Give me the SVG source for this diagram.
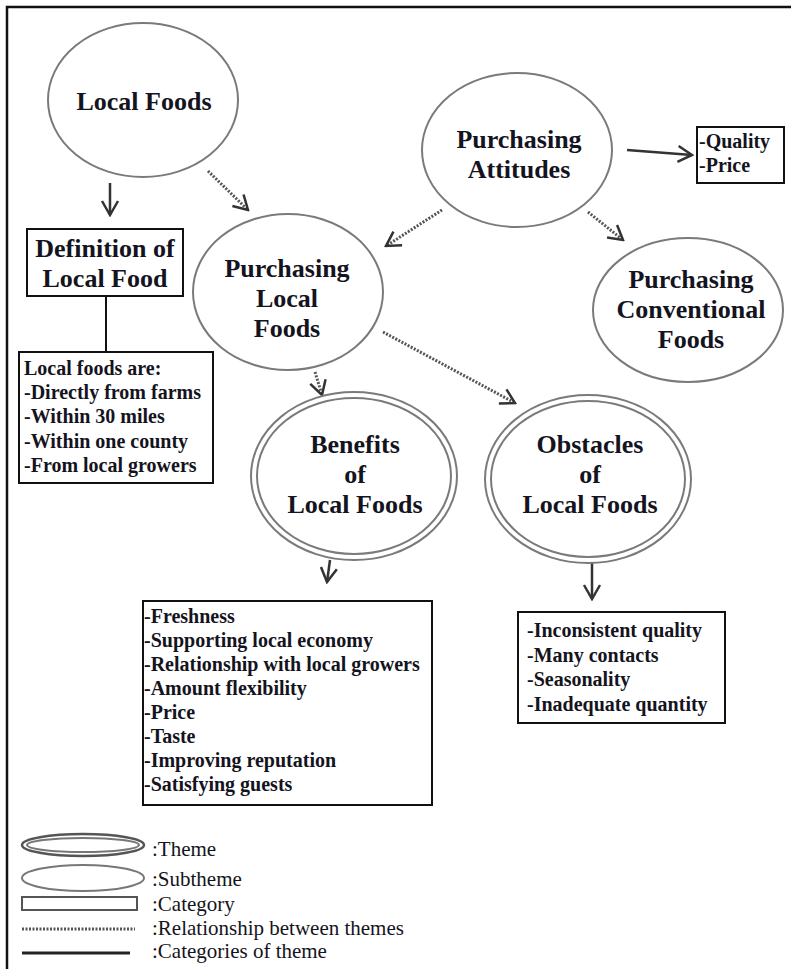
<svg xmlns="http://www.w3.org/2000/svg" width="791" height="969" viewBox="0 0 791 969">
<style>
.el{fill:none;stroke:#7a7a7a;stroke-width:2}
.box{fill:#fff;stroke:#111;stroke-width:2}
.h{font-family:"Liberation Serif",serif;font-weight:bold;font-size:26px;fill:#141420;text-anchor:middle}
.t{font-family:"Liberation Serif",serif;font-weight:bold;font-size:20px;fill:#141420}
.lg{font-family:"Liberation Serif",serif;font-size:21px;fill:#141420}
.dot{fill:none;stroke:#555;stroke-width:3;stroke-dasharray:2 1.5}
.sol{fill:none;stroke:#333;stroke-width:2.5}
</style>
<defs>
<marker id="ah" viewBox="0 0 18 20" refX="16" refY="10" markerWidth="18" markerHeight="20" markerUnits="userSpaceOnUse" orient="auto"><path d="M2,2 L16,10 L2,18" fill="none" stroke="#333" stroke-width="2.5"/></marker>
</defs>
<rect width="791" height="969" fill="#fff"/>
<path d="M7,969 V7 H791" fill="none" stroke="#111" stroke-width="2.5"/>

<g id="connectors">
<line class="dot" x1="208" y1="171" x2="248" y2="210" marker-end="url(#ah)"/>
<line class="dot" x1="442" y1="210" x2="386" y2="246" marker-end="url(#ah)"/>
<line class="dot" x1="588" y1="212" x2="623" y2="240" marker-end="url(#ah)"/>
<line class="dot" x1="383" y1="332" x2="515" y2="403" marker-end="url(#ah)"/>
<line class="dot" x1="315" y1="372" x2="322" y2="395" marker-end="url(#ah)"/>
<line class="sol" x1="110" y1="183" x2="110" y2="215" marker-end="url(#ah)"/>
<line class="sol" x1="627" y1="150" x2="692" y2="155" stroke-width="3" marker-end="url(#ah)"/>
<line class="sol" x1="330" y1="560" x2="327" y2="582" marker-end="url(#ah)"/>
<line class="sol" x1="592" y1="563" x2="592" y2="599" marker-end="url(#ah)"/>
<line x1="106" y1="296" x2="106" y2="352" stroke="#111" stroke-width="2"/>
</g>

<g id="local-foods">
<ellipse class="el" cx="143" cy="100" rx="95" ry="77"/>
<text class="h" x="144" y="110">Local Foods</text>
</g>

<g id="definition">
<rect class="box" x="27" y="229" width="156" height="67"/>
<text class="h" x="105" y="257">Definition of</text>
<text class="h" x="105" y="287">Local Food</text>
</g>

<g id="local-foods-are">
<rect class="box" x="19" y="352" width="194" height="131"/>
<text class="t" x="24" y="375">Local foods are:</text>
<text class="t" x="24" y="399">-Directly from farms</text>
<text class="t" x="24" y="423">-Within 30 miles</text>
<text class="t" x="24" y="448">-Within one county</text>
<text class="t" x="24" y="472">-From local growers</text>
</g>

<g id="purchasing-local">
<ellipse class="el" cx="288" cy="292" rx="95" ry="78"/>
<text class="h" x="287" y="277">Purchasing</text>
<text class="h" x="287" y="307">Local</text>
<text class="h" x="287" y="337">Foods</text>
</g>

<g id="purchasing-attitudes">
<ellipse class="el" cx="517" cy="150" rx="95" ry="77"/>
<text class="h" x="519" y="148">Purchasing</text>
<text class="h" x="519" y="178">Attitudes</text>
</g>

<g id="quality-price">
<rect class="box" x="697" y="127" width="87" height="56"/>
<text class="t" x="699" y="148">-Quality</text>
<text class="t" x="699" y="172">-Price</text>
</g>

<g id="purchasing-conventional">
<ellipse class="el" cx="688" cy="310" rx="95" ry="72"/>
<text class="h" x="691" y="288">Purchasing</text>
<text class="h" x="691" y="318">Conventional</text>
<text class="h" x="691" y="348">Foods</text>
</g>

<g id="benefits">
<ellipse class="el" cx="354" cy="476" rx="103" ry="84"/>
<ellipse class="el" cx="354" cy="476" rx="97" ry="78"/>
<text class="h" x="355" y="453">Benefits</text>
<text class="h" x="355" y="483">of</text>
<text class="h" x="355" y="513">Local Foods</text>
</g>

<g id="obstacles">
<ellipse class="el" cx="588" cy="479" rx="103" ry="84"/>
<ellipse class="el" cx="588" cy="479" rx="97" ry="78"/>
<text class="h" x="590" y="453">Obstacles</text>
<text class="h" x="590" y="483">of</text>
<text class="h" x="590" y="513">Local Foods</text>
</g>

<g id="benefits-list">
<rect class="box" x="143" y="601" width="289" height="204"/>
<text class="t" x="144" y="623">-Freshness</text>
<text class="t" x="144" y="647">-Supporting local economy</text>
<text class="t" x="144" y="671">-Relationship with local growers</text>
<text class="t" x="144" y="695">-Amount flexibility</text>
<text class="t" x="144" y="719">-Price</text>
<text class="t" x="144" y="743">-Taste</text>
<text class="t" x="144" y="767">-Improving reputation</text>
<text class="t" x="144" y="791">-Satisfying guests</text>
</g>

<g id="obstacles-list">
<rect class="box" x="518" y="612" width="207" height="111"/>
<text class="t" x="527" y="637">-Inconsistent quality</text>
<text class="t" x="527" y="662">-Many contacts</text>
<text class="t" x="527" y="686">-Seasonality</text>
<text class="t" x="527" y="711">-Inadequate quantity</text>
</g>

<g id="legend">
<ellipse cx="83" cy="845" rx="61" ry="11" fill="none" stroke="#555" stroke-width="2.5"/>
<ellipse cx="83" cy="845" rx="56" ry="7" fill="none" stroke="#777" stroke-width="2"/>
<text class="lg" x="152" y="856">:Theme</text>
<ellipse cx="83" cy="878" rx="61" ry="13" fill="none" stroke="#777" stroke-width="2"/>
<text class="lg" x="152" y="886">:Subtheme</text>
<rect x="22" y="897" width="115" height="13" fill="none" stroke="#555" stroke-width="2"/>
<text class="lg" x="152" y="911">:Category</text>
<line class="dot" x1="22" y1="929" x2="135" y2="929" stroke-width="2"/>
<text class="lg" x="152" y="935">:Relationship between themes</text>
<line x1="22" y1="953" x2="130" y2="953" stroke="#222" stroke-width="3"/>
<text class="lg" x="152" y="958">:Categories of theme</text>
</g>
</svg>
